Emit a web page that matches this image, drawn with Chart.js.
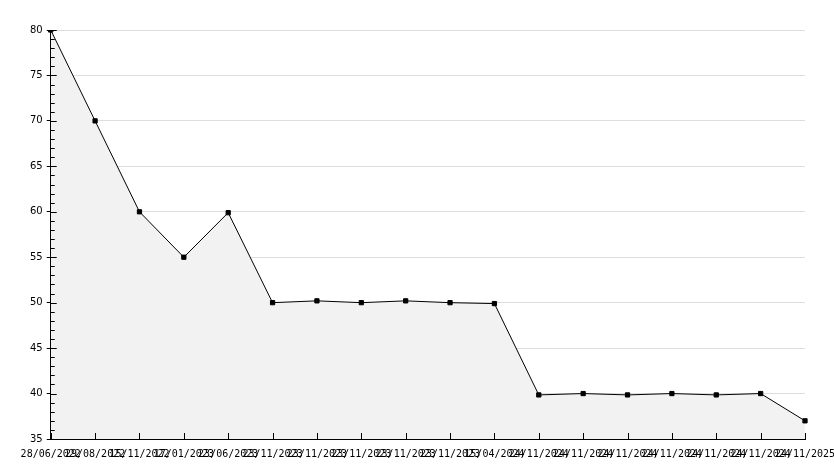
<!DOCTYPE html>
<html lang="pt-br">
<head>
    <meta charset="UTF-8">
    <title>Grafico</title>
    <script src="https://cdn.jsdelivr.net/npm/chart.js"></script>
    <style>
        html, body { margin: 0; padding: 0; background: #fff; }
        #wrap { width: 834px; height: 468px; }
    </style>
</head>
<body>
    <div id="wrap"><canvas id="myChartCanvas" width="834" height="468"></canvas></div>

<script>
    // dados
    const datas = [
        "28/06/2022", "29/08/2022", "15/11/2022", "17/01/2023", "23/06/2023",
        "23/11/2023", "23/11/2023", "23/11/2023", "23/11/2023", "23/11/2023",
        "15/04/2024", "24/11/2024", "24/11/2024", "24/11/2024", "24/11/2024",
        "24/11/2024", "24/11/2024", "24/11/2025"
    ];
    const valores = [80, 70, 60, 55, 59.9, 50, 50.2, 50, 50.2, 50, 49.9, 39.85, 40, 39.85, 40, 39.85, 40, 37];
    const yMin = 35;
    const yMax = 80;

    // tracinhos internos nos eixos
    const tracinhos = {
        id: 'tracinhos',
        afterDatasetsDraw(chart) {
            const ctx = chart.ctx;
            const x = chart.scales.x;
            const y = chart.scales.y;
            const area = chart.chartArea;
            ctx.save();
            ctx.strokeStyle = '#000';
            ctx.lineWidth = 1;
            ctx.beginPath();
            for (let v = yMin; v <= yMax; v++) {
                const py = Math.round(y.getPixelForValue(v)) + 0.5;
                const len = v % 5 === 0 ? 6 : 4;
                ctx.moveTo(area.left, py);
                ctx.lineTo(area.left + len, py);
            }
            for (let i = 0; i < datas.length; i++) {
                const px = Math.round(x.getPixelForValue(i)) + 0.5;
                ctx.moveTo(px, area.bottom);
                ctx.lineTo(px, area.bottom - 6);
            }
            ctx.stroke();
            ctx.restore();
        }
    };

    let div = document.getElementById("myChartCanvas").getContext("2d");

    let myChart = new Chart(div, {
        type: 'line',
        data: {
            labels: datas,
            datasets: [{
                data: valores,
                borderColor: '#000',
                borderWidth: 1,
                backgroundColor: '#f2f2f2',
                fill: 'start',
                tension: 0,
                pointStyle: 'rect',
                pointRadius: 3,
                pointBackgroundColor: '#000',
                pointBorderColor: '#000',
                pointBorderWidth: 1
            }]
        },
        options: {
            responsive: false,
            animation: false,
            layout: { padding: { top: 30, left: 26, right: 29, bottom: 7 } },
            plugins: {
                legend: { display: false },
                tooltip: { enabled: false }
            },
            scales: {
                x: {
                    offset: false,
                    grid: { display: false },
                    border: { display: true, color: '#000', width: 1 },
                    afterFit(scale) {
                        scale.paddingRight = 0;
                    },
                    ticks: {
                        autoSkip: false,
                        maxRotation: 0,
                        minRotation: 0,
                        color: '#000',
                        padding: 1,
                        font: { family: 'DejaVu Sans Mono', size: 10 }
                    }
                },
                y: {
                    min: yMin,
                    max: yMax,
                    grid: {
                        color: '#dddddd',
                        tickColor: '#000',
                        tickLength: 4,
                        drawTicks: true
                    },
                    border: { display: true, color: '#000', width: 1 },
                    ticks: {
                        stepSize: 5,
                        color: '#000',
                        padding: 4,
                        font: { family: 'DejaVu Sans', size: 10 }
                    }
                }
            }
        },
        plugins: [tracinhos]
    });
</script>
</body>
</html>
